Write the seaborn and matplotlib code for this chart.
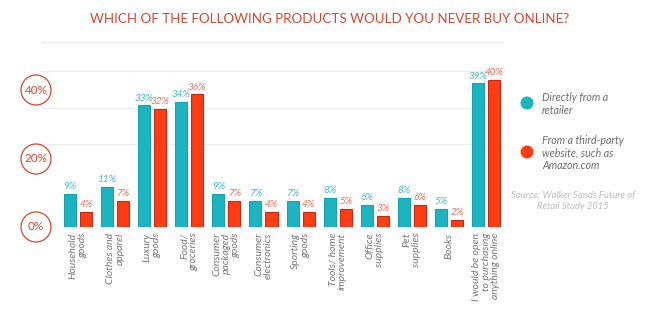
import matplotlib
matplotlib.use("Agg")
import matplotlib.pyplot as plt
from matplotlib.patches import Ellipse
from matplotlib.lines import Line2D
import seaborn as sns
import pandas as pd

categories = [
    "Household\ngoods", "Clothes and\napparel", "Luxury\ngoods", "Food/\ngroceries",
    "Consumer\npackaged\ngoods", "Consumer\nelectronics", "Sporting\ngoods",
    "Tools/ home\nimprovement", "Office\nsupplies", "Pet\nsupplies", "Books",
    "I would be open\nto purchasing\nanything online",
]
direct = [9, 11, 33, 34, 9, 7, 7, 8, 6, 8, 5, 39]
third_party = [4, 7, 32, 36, 7, 4, 4, 5, 3, 6, 2, 40]
series_names = ["Directly from a\nretailer", "From a third-party\nwebsite, such as\nAmazon.com"]
circle_labels = ["0%", "20%", "40%"]

TEAL = "#1bb4c0"
RED = "#ff3c12"
TEAL_TXT = "#3fbcc4"
RED_TXT = "#ee6f5c"
TITLE_C = "#d9452d"
GRAY = "#6d6d6d"

sns.set_theme(style="white")
plt.rcParams["font.family"] = ["Lato", "DejaVu Sans"]

df = pd.DataFrame({
    "category": categories * 2,
    "value": direct + third_party,
    "series": [series_names[0]] * len(categories) + [series_names[1]] * len(categories),
})

W, H = 648, 330
fig = plt.figure(figsize=(6.48, 3.30), dpi=100)
ax = fig.add_axes([40 / W, (H - 227) / H, 465 / W, 162 / H])

sns.barplot(data=df, x="category", y="value", hue="series",
            palette=[TEAL, RED], width=0.864, gap=0.25, ax=ax,
            legend=False, order=categories, hue_order=series_names,
            linewidth=0.8, saturation=1)

edge_cols = ["#17a3ae", "#c8281a"]
txt_cols = [TEAL_TXT, RED_TXT]
for cont, ec, tc, vals in zip(ax.containers, edge_cols, txt_cols, [direct, third_party]):
    for p in cont.patches:
        p.set_edgecolor(ec)
    ax.bar_label(cont, labels=[f"{v}%" for v in vals], padding=2,
                 color=tc, fontsize=7.2, fontstyle="italic")

ax.set_ylim(0, 44)
ax.set_xlim(-1.024, 11.51)
ax.set_yticks([22.5, 32.3, 42.3])
ax.set_yticklabels([])
ax.yaxis.grid(True, color="#ececec", linewidth=0.8)
ax.set_axisbelow(True)
for s in ax.spines.values():
    s.set_visible(False)
ax.set_xlabel("")
ax.set_ylabel("")
ax.tick_params(axis="both", length=0)
ax.tick_params(axis="x", pad=4)
for lab in ax.get_xticklabels():
    lab.set_rotation(90)
    lab.set_ha("center")
    lab.set_va("top")
    lab.set_multialignment("right")
    lab.set_fontsize(7.5)
    lab.set_fontstyle("italic")
    lab.set_color("#777777")
    lab.set_linespacing(1.1)

# title and rule
fig.text(330 / W, 1 - 19 / H, "WHICH OF THE FOLLOWING PRODUCTS WOULD YOU NEVER BUY ONLINE?",
         ha="center", va="center", color=TITLE_C, fontsize=9.6)
fig.add_artist(Line2D([41 / W, 503 / W], [1 - 42 / H, 1 - 42 / H],
                      color="#ececec", linewidth=1, transform=fig.transFigure))

# circled axis markers
for lab, yp in zip(circle_labels, [227, 159, 90]):
    fig.add_artist(Ellipse((36 / W, 1 - yp / H), 30 / W, 30 / H, transform=fig.transFigure,
                           facecolor="white", edgecolor=TITLE_C, linewidth=0.9))
    fig.text(36 / W, 1 - yp / H, lab, ha="center", va="center", color=TITLE_C, fontsize=8.5)

# legend
for col, name, cy in zip([TEAL, RED], series_names, [103, 152]):
    fig.add_artist(Ellipse((527 / W, 1 - cy / H), 13 / W, 13 / H, transform=fig.transFigure,
                           facecolor=col, edgecolor="none"))
    fig.text(542 / W, 1 - (cy + 1) / H, name, ha="left", va="center", color=GRAY,
             fontsize=7.7, fontstyle="italic", linespacing=1.2)

fig.text(573 / W, 1 - 201 / H, "Source: Walker Sands Future of\nRetail Study 2015",
         ha="center", va="center", color="#bdbdbd", fontsize=6.8, fontstyle="italic",
         linespacing=1.3)

fig.savefig("out.png", dpi=100, facecolor="white")
